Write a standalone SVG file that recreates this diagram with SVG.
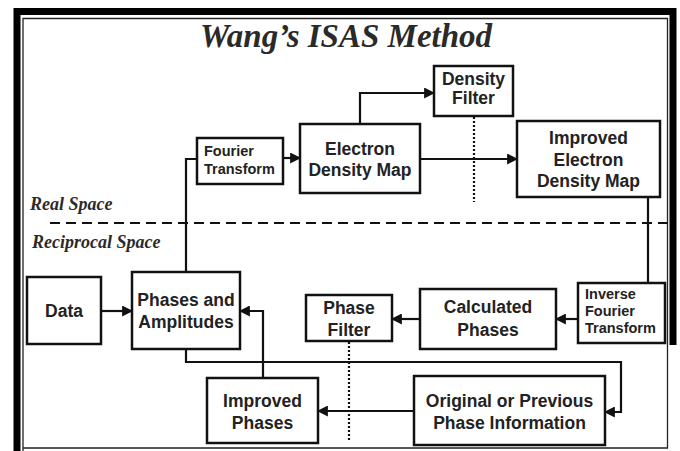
<svg xmlns="http://www.w3.org/2000/svg" width="680" height="451" viewBox="0 0 680 451">
<style>
.box{fill:#fff;stroke:#111;stroke-width:2.5}
.t{font-family:"Liberation Sans",Arial,sans-serif;font-weight:bold;font-size:17.5px;fill:#222;text-anchor:middle}
.s{font-size:14.5px;text-anchor:start}
.c{fill:none;stroke:#111;stroke-width:2.2}
.dot{fill:none;stroke:#111;stroke-width:2.2;stroke-dasharray:2 2}
.it{font-family:"Liberation Serif","Times New Roman",serif;font-style:italic;font-weight:bold;fill:#2a2a2a}
</style>
<defs>
<marker id="ah" viewBox="0 0 10 10" refX="9" refY="5" markerWidth="11" markerHeight="11" orient="auto" markerUnits="userSpaceOnUse">
<path d="M0,0 L10,5 L0,10 z" fill="#111"/>
</marker>
</defs>
<rect width="680" height="451" fill="#fff"/>
<g id="frame">
<path d="M17,451 V11.5 H673 V345" fill="none" stroke="#000" stroke-width="7"/>
<path d="M23,451 V18.5 H667.5 V448 H23" fill="none" stroke="#222" stroke-width="1.3"/>
</g>
<text x="346" y="47" class="it" font-size="33" text-anchor="middle" fill="#1a1a1a">Wang’s ISAS Method</text>
<text x="30" y="210" class="it" font-size="18">Real Space</text>
<text x="32" y="248" class="it" font-size="18">Reciprocal Space</text>
<line x1="50" y1="223" x2="670" y2="223" stroke="#111" stroke-width="2" stroke-dasharray="10 6"/>
<g id="connectors">
<path class="c" d="M101,311 H132" marker-end="url(#ah)"/>
<path class="c" d="M186,272 V159 H197"/>
<path class="c" d="M283,158 H300" marker-end="url(#ah)"/>
<path class="c" d="M360,124 V93 H434" marker-end="url(#ah)"/>
<path class="dot" d="M474,117 V202"/>
<path class="c" d="M420,159 H517" marker-end="url(#ah)"/>
<path class="c" d="M648,197 V283"/>
<path class="c" d="M578,319 H556" marker-end="url(#ah)"/>
<path class="c" d="M420,319 H392" marker-end="url(#ah)"/>
<path class="dot" d="M349,342 V440"/>
<path class="c" d="M186,349 V362 H621 V412 H605" marker-end="url(#ah)"/>
<path class="c" d="M414,411 H318" marker-end="url(#ah)"/>
<path class="c" d="M263,378 V311 H240" marker-end="url(#ah)"/>
</g>
<g id="density-filter">
<rect class="box" x="434" y="66" width="79" height="50"/>
<text class="t" x="473.5" y="85">Density</text>
<text class="t" x="473.5" y="104">Filter</text>
</g>
<g id="fourier-transform">
<rect class="box" x="197" y="138" width="86" height="46"/>
<text class="t s" x="204" y="156">Fourier</text>
<text class="t s" x="204" y="174">Transform</text>
</g>
<g id="electron-density-map">
<rect class="box" x="300" y="124" width="120" height="69"/>
<text class="t" x="360" y="155">Electron</text>
<text class="t" x="360" y="176">Density Map</text>
</g>
<g id="improved-electron-density-map">
<rect class="box" x="517" y="121" width="143" height="76"/>
<text class="t" x="588.5" y="144">Improved</text>
<text class="t" x="588.5" y="166">Electron</text>
<text class="t" x="588.5" y="187">Density Map</text>
</g>
<g id="data">
<rect class="box" x="27" y="277" width="74" height="67"/>
<text class="t" x="64" y="317">Data</text>
</g>
<g id="phases-amplitudes">
<rect class="box" x="132" y="272" width="108" height="77"/>
<text class="t" x="186" y="306">Phases and</text>
<text class="t" x="186" y="328">Amplitudes</text>
</g>
<g id="phase-filter">
<rect class="box" x="306" y="295" width="86" height="46"/>
<text class="t" x="349" y="314">Phase</text>
<text class="t" x="349" y="336">Filter</text>
</g>
<g id="calculated-phases">
<rect class="box" x="420" y="289" width="136" height="60"/>
<text class="t" x="488" y="313">Calculated</text>
<text class="t" x="488" y="336">Phases</text>
</g>
<g id="inverse-fourier-transform">
<rect class="box" x="578" y="283" width="87" height="60"/>
<text class="t s" x="585" y="299">Inverse</text>
<text class="t s" x="585" y="316">Fourier</text>
<text class="t s" x="585" y="333">Transform</text>
</g>
<g id="improved-phases">
<rect class="box" x="207" y="378" width="111" height="65"/>
<text class="t" x="262.5" y="407">Improved</text>
<text class="t" x="262.5" y="429">Phases</text>
</g>
<g id="original-previous">
<rect class="box" x="414" y="376" width="191" height="69"/>
<text class="t" x="509.5" y="407">Original or Previous</text>
<text class="t" x="509.5" y="429">Phase Information</text>
</g>
</svg>
